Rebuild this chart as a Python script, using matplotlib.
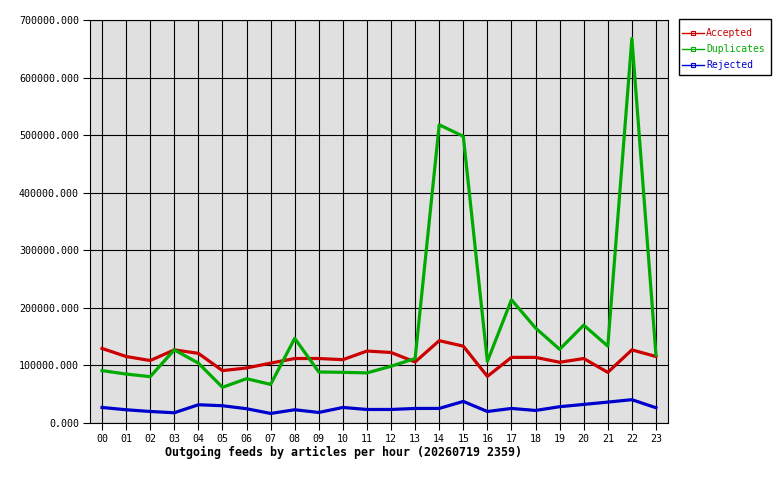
import matplotlib.pyplot as plt
from matplotlib.patches import Rectangle
from matplotlib.ticker import FormatStrFormatter

hours = ['%02d' % h for h in range(24)]

accepted = [129500, 115500, 108500, 127000, 121000, 91000, 95600, 104000,
            112000, 112000, 110000, 125000, 122500, 106000, 143000, 133500,
            81000, 114000, 114000, 105500, 112000, 88000, 127000, 115500]
duplicates = [91000, 85000, 80500, 127000, 104000, 62000, 77000, 67000,
              147000, 88600, 88000, 87000, 98600, 112000, 518000, 498000,
              107000, 214000, 165000, 128000, 170000, 133500, 668000, 118000]
rejected = [27000, 23000, 20000, 17800, 31700, 30000, 24800, 16600,
            23000, 18300, 27000, 23500, 23500, 25300, 25300, 37500,
            20000, 25300, 21800, 28300, 32300, 36300, 40500, 26500]

mono = 'DejaVu Sans Mono'
colors = ['#cc0000', '#00aa00', '#0000cc']

fig = plt.figure(figsize=(7.8, 4.8), dpi=100)
ax = fig.add_axes([90 / 780, 1 - 423 / 480, 578 / 780, 403 / 480])
ax.set_facecolor('#e0e0e0')

x = range(len(hours))
ax.plot(x, accepted, color=colors[0], lw=2.3, label='Accepted', zorder=3)
ax.plot(x, duplicates, color=colors[1], lw=2.3, label='Duplicates', zorder=3)
ax.plot(x, rejected, color=colors[2], lw=2.3, label='Rejected', zorder=3)

ax.set_xlim(-0.5, len(hours) - 0.5)
ax.set_ylim(0, 700000)
ax.set_xticks(list(x))
ax.set_xticklabels(hours, fontfamily=mono, fontsize=7.2)
ax.set_yticks(range(0, 700001, 100000))
ax.yaxis.set_major_formatter(FormatStrFormatter('%.3f'))
for lab in ax.get_yticklabels():
    lab.set_fontfamily(mono)
    lab.set_fontsize(7.2)
ax.tick_params(length=5, width=0.8, color='black', pad=3)
ax.grid(True, color='black', lw=0.8)
ax.set_axisbelow(True)
for s in ax.spines.values():
    s.set_color('black')
    s.set_linewidth(0.8)

# legend box drawn by hand, legend itself without frame
fig.patches.append(Rectangle((679 / 780, 1 - 75 / 480), 92 / 780, 56 / 480,
                             transform=fig.transFigure, facecolor='white',
                             edgecolor='black', lw=1))
handles = [plt.Line2D([], [], color=c, lw=1, marker='s', markersize=2.5,
                      markerfacecolor='none', markeredgewidth=0.8)
           for c in colors]
leg = fig.legend(handles, ['Accepted', 'Duplicates', 'Rejected'],
                 loc='upper left', bbox_to_anchor=(680 / 780, 1 - 26 / 480),
                 prop={'family': mono, 'size': 7}, frameon=False,
                 handlelength=2.3, handletextpad=0.2,
                 labelspacing=0.62, borderpad=0.2, borderaxespad=0)
for t, c in zip(leg.get_texts(), colors):
    t.set_color(c)

fig.text(165 / 780, 1 - 452 / 480,
         'Outgoing feeds by articles per hour (20260719 2359)',
         fontfamily=mono, fontsize=8.4, fontweight='bold', va='center', ha='left')

fig.savefig('out.png', dpi=100)
